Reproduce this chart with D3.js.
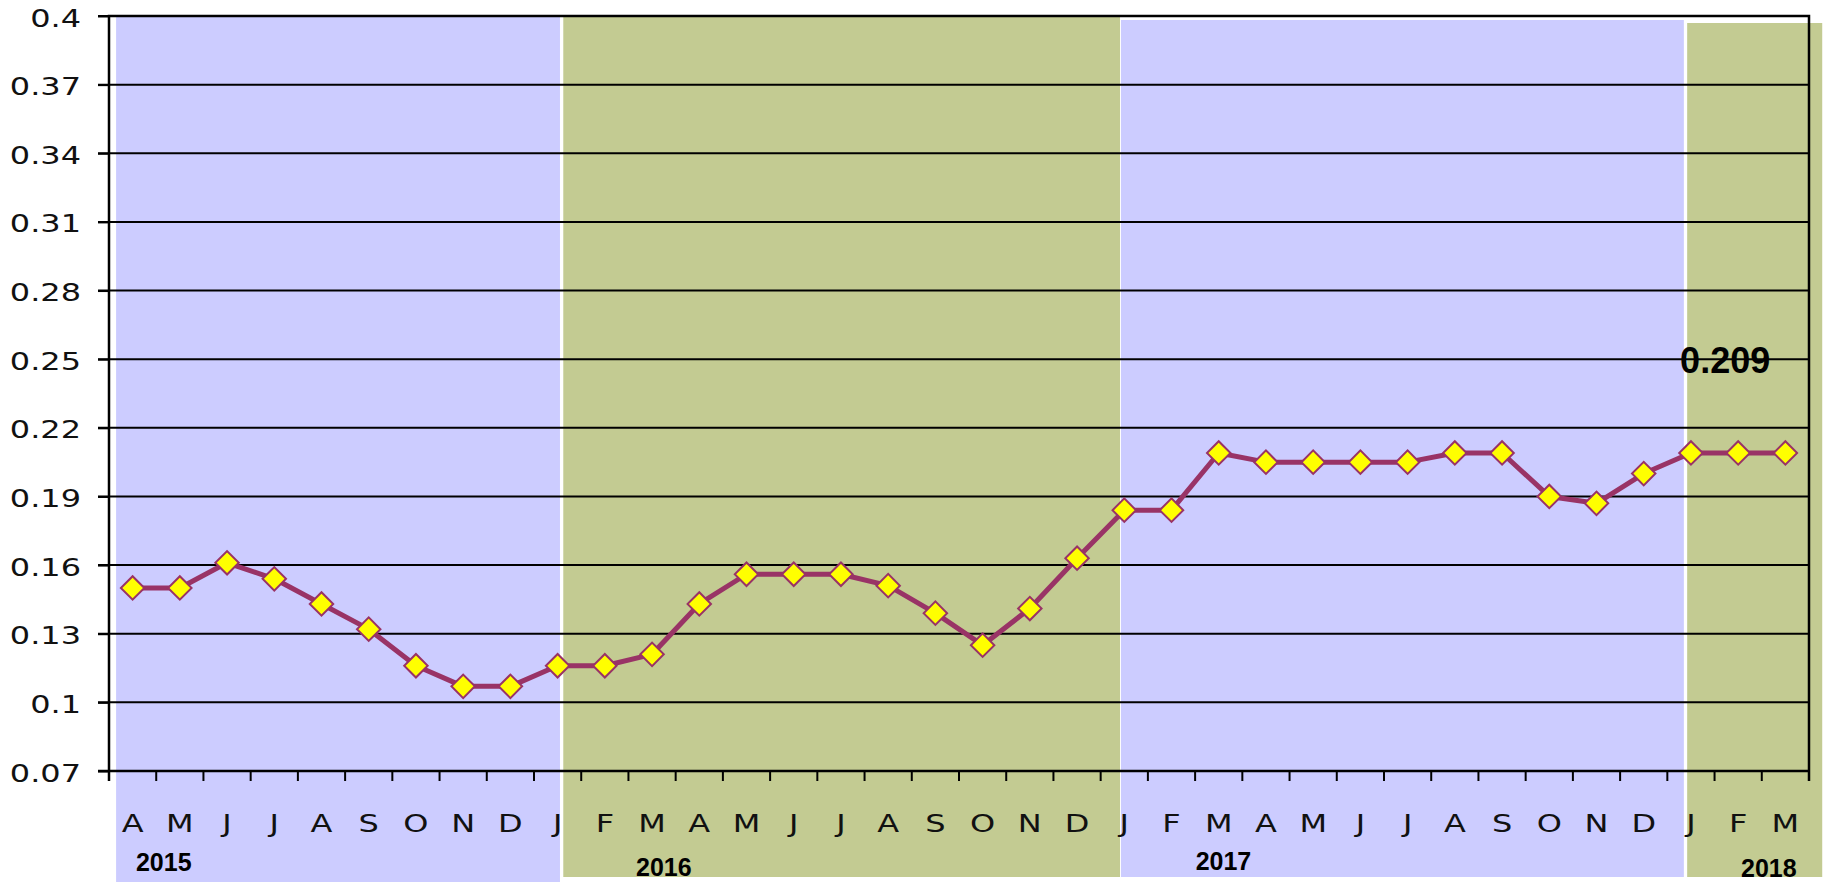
<!DOCTYPE html>
<html>
<head>
<meta charset="utf-8">
<script src="https://cdn.jsdelivr.net/npm/d3@7"></script>
<style>
  body { margin: 0; background: #fff; }
  .axis text { font-family: "DejaVu Sans", sans-serif; font-size: 25px; fill: #111; }
  .year { font-family: "Liberation Sans", Arial, sans-serif; font-weight: bold; font-size: 25px; fill: #000; }
  .note { font-family: "Liberation Sans", Arial, sans-serif; font-weight: bold; font-size: 36px; fill: #000; }
</style>
</head>
<body>
<div id="chart"></div>
<script>
// monthly values, Apr 2015 .. Mar 2018
const months = ['A','M','J','J','A','S','O','N','D',
  'J','F','M','A','M','J','J','A','S','O','N','D',
  'J','F','M','A','M','J','J','A','S','O','N','D',
  'J','F','M'];
const values = [0.150, 0.150, 0.161, 0.154, 0.143, 0.132, 0.116, 0.107, 0.107,
  0.116, 0.116, 0.121, 0.143, 0.156, 0.156, 0.156, 0.151, 0.139, 0.125, 0.141, 0.163,
  0.184, 0.184, 0.209, 0.205, 0.205, 0.205, 0.205, 0.209, 0.209, 0.190, 0.187, 0.200,
  0.209, 0.209, 0.209];
const years = ['2015', '2016', '2017', '2018'];
const yTicks = [0.07, 0.1, 0.13, 0.16, 0.19, 0.22, 0.25, 0.28, 0.31, 0.34, 0.37, 0.4];
const yTickLabels = ['0.07', '0.1', '0.13', '0.16', '0.19', '0.22', '0.25', '0.28', '0.31', '0.34', '0.37', '0.4'];

// year panels, in month steps from the plot's left edge
const yearFill = ['#ccccff', '#c3cb92', '#ccccff', '#c3cb92'];
const yearEdges = [[0.15, 9.55], [9.62, 21.41], [21.43, 33.35], [33.42, 36.28]];
const yearTop = [16, 15, 20, 23];
const yearBottom = [882, 877, 877, 877];
const yearLabelAt = [1.16, 11.75, 23.6, 35.15];
const yearLabelBase = [871, 876, 870, 877];

const width = 1824, height = 882;
const plotLeft = 109, plotRight = 1809, plotTop = 16, plotBottom = 771;
const stretch = 1.28; // axis text in the original is drawn wide

const svg = d3.select('#chart').append('svg')
  .attr('width', width)
  .attr('height', height);

const x = d3.scaleBand()
  .domain(d3.range(months.length))
  .range([plotLeft, plotRight])
  .padding(0);

const y = d3.scaleLinear()
  .domain([0.07, 0.4])
  .range([plotBottom, plotTop]);

const step = k => plotLeft + k * x.step();
const cx = i => x(i) + x.bandwidth() / 2;

// coloured year panels
svg.append('g').selectAll('rect')
  .data(years)
  .enter()
  .append('rect')
  .attr('x', (d, i) => step(yearEdges[i][0]))
  .attr('y', (d, i) => yearTop[i])
  .attr('width', (d, i) => step(yearEdges[i][1]) - step(yearEdges[i][0]))
  .attr('height', (d, i) => yearBottom[i] - yearTop[i])
  .attr('fill', (d, i) => yearFill[i]);

// gridlines
svg.append('g').selectAll('line')
  .data(yTicks)
  .enter()
  .append('line')
  .attr('x1', plotLeft - 11)
  .attr('x2', plotRight)
  .attr('y1', d => y(d))
  .attr('y2', d => y(d))
  .attr('stroke', '#000')
  .attr('stroke-width', 2);

// Y axis
const yAxis = svg.append('g')
  .attr('class', 'axis')
  .attr('transform', 'translate(' + plotLeft + ',0)')
  .call(d3.axisLeft(y).tickValues(yTicks).tickSize(11).tickFormat((d, i) => yTickLabels[i]));
yAxis.select('.domain').remove();
yAxis.selectAll('line').attr('stroke', '#000').attr('stroke-width', 2);
yAxis.selectAll('text')
  .attr('x', -28 / stretch)
  .attr('dy', 10)
  .attr('transform', 'scale(' + stretch + ',1)');

// X axis labels
const xAxis = svg.append('g')
  .attr('class', 'axis')
  .attr('transform', 'translate(0,' + plotBottom + ')')
  .call(d3.axisBottom(x).tickSize(0).tickFormat(i => months[i]));
xAxis.select('.domain').remove();
xAxis.selectAll('text')
  .attr('y', 61)
  .attr('dy', 0)
  .attr('transform', 'scale(' + stretch + ',1)');

// tick marks between months
svg.append('g').selectAll('line')
  .data(d3.range(months.length + 1))
  .enter()
  .append('line')
  .attr('x1', d => step(d))
  .attr('x2', d => step(d))
  .attr('y1', plotBottom)
  .attr('y2', plotBottom + 10)
  .attr('stroke', '#000')
  .attr('stroke-width', 2);

// plot frame
svg.append('path')
  .attr('d', 'M' + plotLeft + ',' + (plotBottom + 10) + 'V' + plotTop + 'H' + plotRight + 'V' + (plotBottom + 10))
  .attr('fill', 'none')
  .attr('stroke', '#000')
  .attr('stroke-width', 2.5);
svg.append('line')
  .attr('x1', plotLeft - 11).attr('x2', plotRight)
  .attr('y1', plotBottom).attr('y2', plotBottom)
  .attr('stroke', '#000')
  .attr('stroke-width', 2.5);

// series line
const line = d3.line()
  .x((d, i) => cx(i))
  .y(d => y(d));

svg.append('path')
  .datum(values)
  .attr('d', line)
  .attr('fill', 'none')
  .attr('stroke', '#993366')
  .attr('stroke-width', 5)
  .attr('stroke-linejoin', 'round');

// diamond markers
svg.append('g').selectAll('path')
  .data(values)
  .enter()
  .append('path')
  .attr('d', d3.symbol().type(d3.symbolSquare).size(275))
  .attr('transform', (d, i) => 'translate(' + cx(i) + ',' + y(d) + ') rotate(45)')
  .attr('fill', '#ffff00')
  .attr('stroke', '#993366')
  .attr('stroke-width', 2)
  .append('title')
  .text((d, i) => months[i] + ' - ' + d);

// year labels
svg.append('g').selectAll('text')
  .data(years)
  .enter()
  .append('text')
  .attr('class', 'year')
  .attr('x', (d, i) => step(yearLabelAt[i]))
  .attr('y', (d, i) => yearLabelBase[i])
  .attr('text-anchor', 'middle')
  .text(d => d);

// latest value note
const last = values.length - 1;
svg.append('text')
  .attr('class', 'note')
  .attr('x', cx(last - 1) - 13)
  .attr('y', y(values[last]) - 80)
  .attr('text-anchor', 'middle')
  .text(d3.format('.3f')(values[last]));
</script>
</body>
</html>
